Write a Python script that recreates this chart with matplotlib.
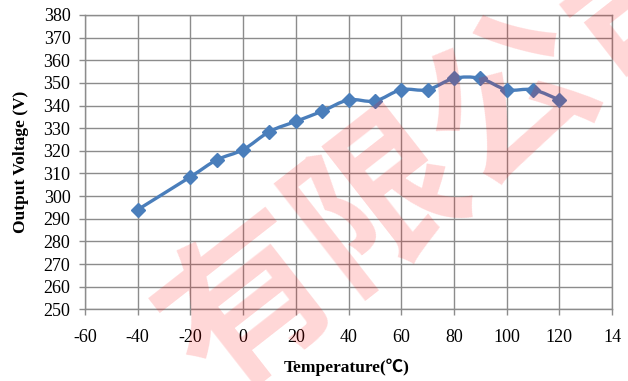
import matplotlib
matplotlib.use("Agg")
import matplotlib.pyplot as plt
from matplotlib.path import Path
from matplotlib.patches import PathPatch
import numpy as np

# Measured output voltage versus ambient temperature
temperature = [-40, -20, -10, 0, 10, 20, 30, 40, 50, 60, 70, 80, 90, 100, 110, 120]
voltage = [294, 308.5, 316, 320.5, 328.5, 333, 337.5, 342.5, 342, 347, 347, 352, 352, 347, 347, 342.5]

x_ticks = [-60, -40, -20, 0, 20, 40, 60, 80, 100, 120, 140]
x_tick_labels = ["-60", "-40", "-20", "0", "20", "40", "60", "80", "100", "120", "14"]
y_ticks = list(range(250, 381, 10))

line_color = "#4A7EBB"
grid_color = "#8C8C8C"
serif = ["Liberation Serif", "Noto Sans CJK SC", "DejaVu Serif"]

fig = plt.figure(figsize=(6.28, 3.81), dpi=100)
ax = fig.add_axes([85 / 628, 1 - 309.3 / 381, (612 - 85) / 628, (309.3 - 15) / 381])

ax.set_xlim(-60, 140)
ax.set_ylim(250, 380)
ax.set_xticks(x_ticks)
ax.set_xticklabels(x_tick_labels)
ax.set_yticks(y_ticks)
ax.grid(True, color=grid_color, linewidth=1.0)
ax.set_axisbelow(True)
for s in ax.spines.values():
    s.set_color(grid_color)
    s.set_linewidth(1.0)
ax.tick_params(axis="both", direction="out", length=4.5, width=1.0, color=grid_color,
               labelsize=13)
ax.tick_params(axis="x", pad=10)
ax.tick_params(axis="y", pad=6)
for lab in ax.get_xticklabels() + ax.get_yticklabels():
    lab.set_family(serif)

# Smoothed connecting line: Catmull-Rom segments expressed as cubic Bezier curves
px = np.asarray(temperature, dtype=float)
py = np.asarray(voltage, dtype=float)
pts = np.column_stack([px, py])
ext = np.vstack([pts[0], pts, pts[-1]])
verts = [tuple(pts[0])]
codes = [Path.MOVETO]
for i in range(len(pts) - 1):
    p0, p1, p2, p3 = ext[i], ext[i + 1], ext[i + 2], ext[i + 3]
    c1 = p1 + (p2 - p0) / 6.0
    c2 = p2 - (p3 - p1) / 6.0
    verts += [tuple(c1), tuple(c2), tuple(p2)]
    codes += [Path.CURVE4, Path.CURVE4, Path.CURVE4]
curve = PathPatch(Path(verts, codes), facecolor="none", edgecolor=line_color,
                  linewidth=2.4, transform=ax.transData, zorder=3, capstyle="round",
                  joinstyle="round")
ax.add_patch(curve)
ax.plot(temperature, voltage, linestyle="none", marker="D", markersize=7,
        color=line_color, markeredgecolor=line_color, zorder=4)

fig.text(347 / 628, 1 - 367 / 381, "Temperature(℃)", ha="center", va="center",
         fontsize=12.5, fontweight="bold", family=serif)
fig.text(21 / 628, 1 - 162 / 381, "Output Voltage (V)", ha="center", va="center",
         rotation=90, fontsize=12.5, fontweight="bold", family=serif)

# Diagonal watermark
fig.text(448 / 628, 1 - 153 / 381, "有限公司", ha="center", va="center",
         rotation=38, rotation_mode="anchor", fontsize=120, fontweight="bold",
         family=["Noto Sans CJK SC", "DejaVu Sans"], color="red", alpha=0.16,
         zorder=10)

fig.savefig("out.png", dpi=100)
